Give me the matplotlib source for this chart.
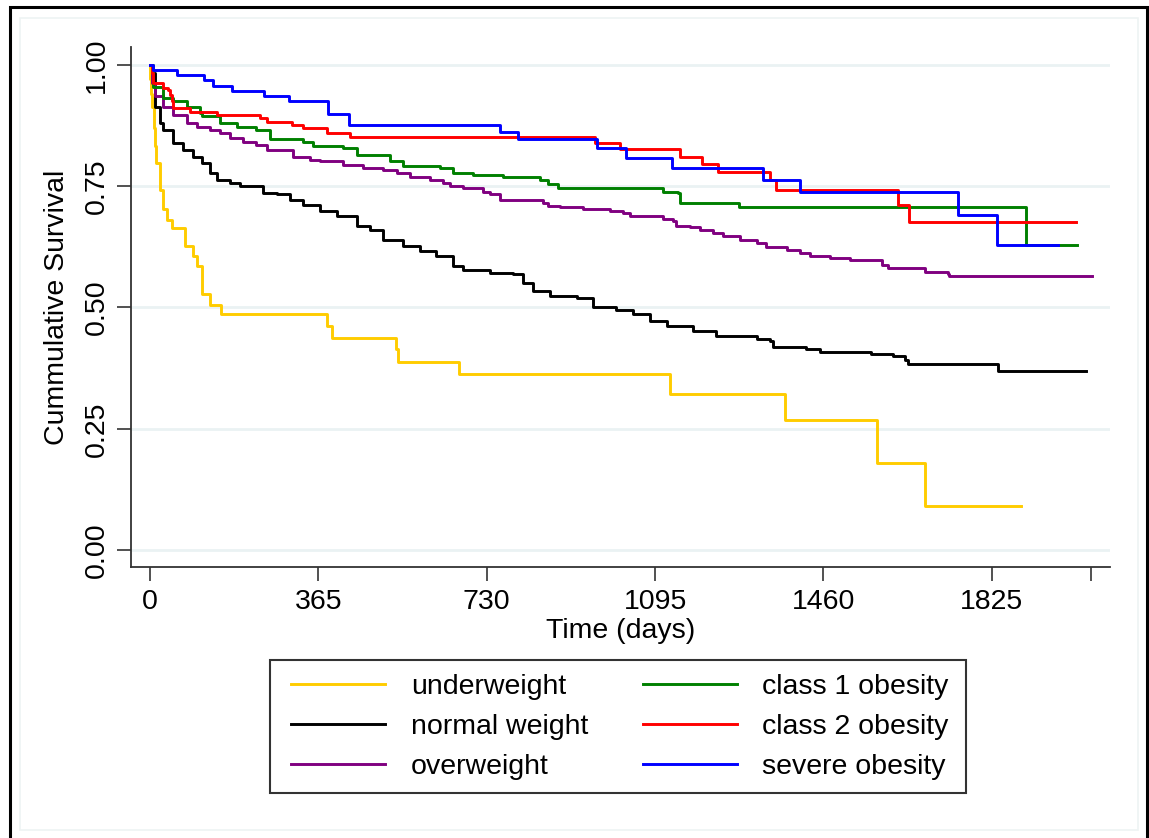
import matplotlib
matplotlib.use("Agg")
from matplotlib import pyplot as plt
from matplotlib.patches import Rectangle

plt.rcParams['font.family'] = ['Liberation Sans', 'DejaVu Sans']

# Kaplan-Meier steps (time in days, cumulative survival)
t_under = [0, 1, 3, 5, 8, 11, 14, 22, 29, 36, 47, 76, 94, 101, 112, 130, 153,
           383, 394, 533, 538, 670, 1128, 1377, 1576, 1680, 1889]
s_under = [1.0, 0.97, 0.94, 0.914, 0.87, 0.832, 0.798, 0.743, 0.702, 0.681, 0.664, 0.626, 0.606, 0.585, 0.527, 0.506, 0.486,
           0.462, 0.4375, 0.4136, 0.388, 0.3636, 0.322, 0.268, 0.180, 0.0899, 0.0899]

t_normal = [0, 4, 11, 22, 29, 50, 72, 94, 112, 130, 145, 173, 195, 246, 275, 303, 332, 368, 405, 448,
            477, 506, 549, 585, 621, 657, 679, 737, 787, 809, 831, 867, 925, 961, 1011, 1047, 1084, 1120, 1177, 1228,
            1315, 1344, 1351, 1423, 1452, 1564, 1611, 1636, 1643, 1838, 2030]
s_normal = [1.0, 0.983, 0.914, 0.880, 0.866, 0.839, 0.825, 0.811, 0.798, 0.777, 0.763, 0.756, 0.750, 0.736, 0.733, 0.722, 0.712, 0.698, 0.688, 0.667,
            0.660, 0.640, 0.626, 0.616, 0.606, 0.585, 0.578, 0.571, 0.568, 0.551, 0.534, 0.523, 0.520, 0.501, 0.494, 0.486, 0.472, 0.462, 0.451, 0.442,
            0.434, 0.431, 0.419, 0.415, 0.409, 0.405, 0.400, 0.391, 0.383, 0.370, 0.370]

t_over = [0, 4, 11, 29, 50, 80, 101, 130, 152, 173, 202, 231, 253, 311, 347, 368, 419, 462, 506, 535,
          564, 607, 636, 650, 679, 722, 737, 758, 852, 863, 889, 939, 997, 1026, 1040, 1112, 1134, 1141, 1170, 1192,
          1221, 1242, 1279, 1315, 1336, 1380, 1409, 1430, 1474, 1517, 1586, 1600, 1680, 1730, 1732, 2041]
s_over = [1.0, 0.962, 0.935, 0.914, 0.897, 0.880, 0.872, 0.866, 0.859, 0.849, 0.842, 0.835, 0.825, 0.811, 0.805, 0.801, 0.794, 0.787, 0.784, 0.777,
          0.770, 0.763, 0.756, 0.750, 0.746, 0.739, 0.733, 0.722, 0.715, 0.710, 0.707, 0.702, 0.698, 0.695, 0.688, 0.682, 0.678, 0.669, 0.666, 0.660,
          0.654, 0.647, 0.640, 0.632, 0.625, 0.619, 0.613, 0.607, 0.602, 0.597, 0.588, 0.582, 0.573, 0.569, 0.565, 0.565]

t_class1 = [0, 7, 29, 50, 80, 108, 112, 152, 188, 231, 260, 332, 354, 419, 448, 520, 549, 628, 657, 701,
            766, 845, 863, 885, 1112, 1145, 1149, 1277, 1900, 2010]
s_class1 = [1.0, 0.955, 0.931, 0.925, 0.914, 0.901, 0.894, 0.880, 0.873, 0.866, 0.848, 0.842, 0.832, 0.829, 0.815, 0.801, 0.791, 0.787, 0.777, 0.774,
            0.769, 0.763, 0.755, 0.746, 0.739, 0.737, 0.715, 0.707, 0.628, 0.628]

t_class2 = [0, 4, 7, 29, 40, 43, 47, 51, 87, 145, 238, 253, 307, 332, 383, 433, 964, 1019, 1149, 1196,
            1232, 1344, 1357, 1622, 1646, 2008]
s_class2 = [1.0, 0.983, 0.962, 0.952, 0.949, 0.938, 0.925, 0.911, 0.904, 0.897, 0.890, 0.883, 0.877, 0.870, 0.859, 0.851, 0.840, 0.826, 0.811, 0.796,
            0.780, 0.762, 0.743, 0.712, 0.6755, 0.6755]

t_severe = [0, 7, 58, 117, 137, 177, 247, 302, 386, 432, 758, 798, 968, 1033, 1132, 1329, 1409, 1752, 1837, 1969]
s_severe = [1.0, 0.990, 0.979, 0.968, 0.957, 0.947, 0.936, 0.925, 0.899, 0.877, 0.862, 0.847, 0.828, 0.808, 0.787, 0.762, 0.738, 0.691, 0.628, 0.628]

groups = ['underweight', 'normal weight', 'overweight', 'class 1 obesity', 'class 2 obesity', 'severe obesity']
colors = ['#FFCC00', '#000000', '#800080', '#008000', '#FF0000', '#0000FF']
curves = [(t_under, s_under), (t_normal, s_normal), (t_over, s_over),
          (t_class1, s_class1), (t_class2, s_class2), (t_severe, s_severe)]

W, H = 1149, 838
fig = plt.figure(figsize=(W / 100, H / 100), dpi=100)
ax = fig.add_axes([131/W, 1 - 567/H, (1110 - 131)/W, (567 - 47)/H])

for (t, s), lab, col in zip(curves, groups, colors):
    ax.step(t, s, where='post', color=col, lw=2.1, label=lab)

ax.set_xlim(-41, 2081)
ax.set_ylim(-0.035, 1.037)
ax.set_xticks([0, 365, 730, 1095, 1460, 1825, 2039])
ax.set_xticklabels(['0', '365', '730', '1095', '1460', '1825', ''])
ax.set_yticks([0, 0.25, 0.5, 0.75, 1.0])
ax.set_yticklabels(['0.00', '0.25', '0.50', '0.75', '1.00'], rotation=90, va='center')
ax.grid(axis='y', color='#EAF2F3', lw=2)
ax.set_axisbelow(True)
ax.tick_params(axis='both', labelsize=20.5, length=10, width=1.2, color='#333333')
ax.tick_params(axis='x', pad=6)
ax.tick_params(axis='y', pad=5)
for side in ['top', 'right']:
    ax.spines[side].set_visible(False)
for side in ['left', 'bottom']:
    ax.spines[side].set_color('#333333')
    ax.spines[side].set_linewidth(1.3)
ax.set_xlabel('Time (days)', fontsize=20.5, labelpad=2)
ax.set_ylabel('Cummulative Survival', fontsize=20.5, labelpad=10)

# legend box like Stata's, entries laid out inside it
fig.patches.append(Rectangle((270/W, 1 - 793/H), 696/W, 133/H, transform=fig.transFigure,
                             fill=False, edgecolor='#333333', lw=1.5))
leg = fig.legend(loc='center', bbox_to_anchor=(620/W, 1 - 727/H), ncol=2, frameon=False,
                 fontsize=20.5, handlelength=3.3, handletextpad=0.9, columnspacing=1.9,
                 labelspacing=0.5, borderpad=0.3)

# Stata-style graph region and outer border
fig.patches.append(Rectangle((20/W, 1 - 830/H), 1118/W, 812/H, transform=fig.transFigure,
                             fill=False, edgecolor='#EEF3F3', lw=1.2))
fig.patches.append(Rectangle((10/W, -0.01), 1137/W, 1.01 - 7/H, transform=fig.transFigure,
                             fill=False, edgecolor='black', lw=2.2))

fig.savefig('out.png', dpi=100)
